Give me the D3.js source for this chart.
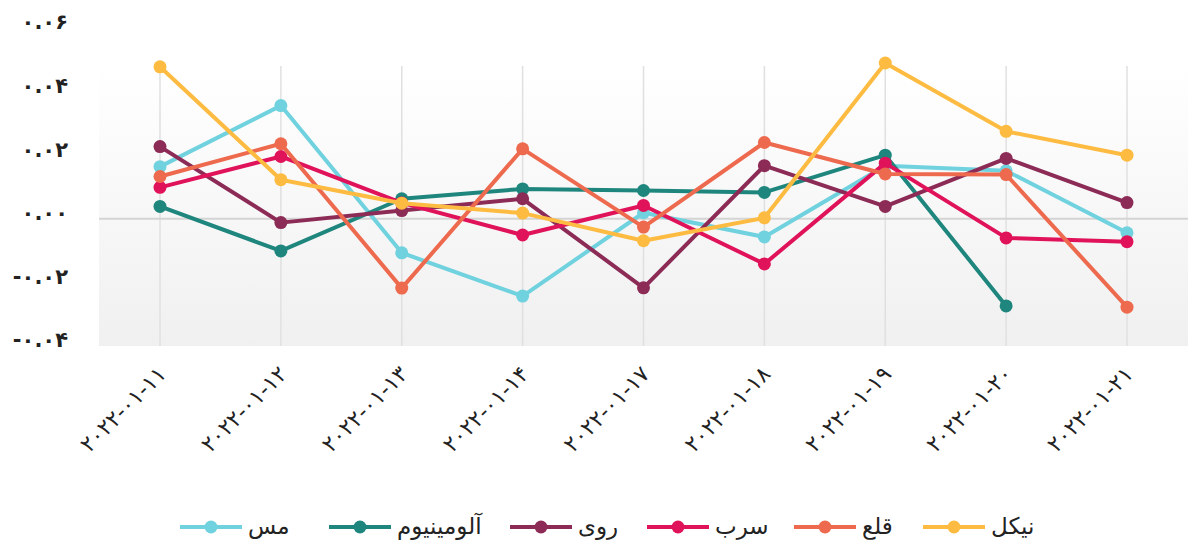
<!DOCTYPE html>
<html>
<head>
<meta charset="utf-8">
<script src="https://cdn.jsdelivr.net/npm/d3@7"></script>
<style>
  body { margin: 0; background: #fff; }
  svg text { font-family: "DejaVu Sans", sans-serif; fill: #222; }
</style>
</head>
<body>
<div id="chart"></div>
<script>
// categories (dates, shown with Persian digits)
const dates = ['۲۰۲۲-۰۱-۱۱', '۲۰۲۲-۰۱-۱۲', '۲۰۲۲-۰۱-۱۳', '۲۰۲۲-۰۱-۱۴', '۲۰۲۲-۰۱-۱۷',
  '۲۰۲۲-۰۱-۱۸', '۲۰۲۲-۰۱-۱۹', '۲۰۲۲-۰۱-۲۰', '۲۰۲۲-۰۱-۲۱'];

const seriesNames = ['مس', 'آلومینیوم', 'روی', 'سرب', 'قلع', 'نیکل'];
const seriesColors = ['#70d2de', '#1f867e', '#8d2b57', '#e0135a', '#ee6a4e', '#fdbb41'];

const copper = [0.0164, 0.0356, -0.0107, -0.0243, 0.0019, -0.0057, 0.0167, 0.0151, -0.0044];
const aluminium = [0.0039, -0.0101, 0.0063, 0.0094, 0.0089, 0.0083, 0.0200, -0.0274, null];
const zinc = [0.0227, -0.0012, 0.0026, 0.0063, -0.0217, 0.0167, 0.0039, 0.0190, 0.0051];
const lead = [0.0099, 0.0196, 0.0050, -0.0051, 0.0042, -0.0142, 0.0175, -0.0060, -0.0072];
const tin = [0.0133, 0.0236, -0.0218, 0.0220, -0.0026, 0.0240, 0.0141, 0.0139, -0.0278];
const nickel = [0.0478, 0.0123, 0.0049, 0.0018, -0.0069, 0.0003, 0.0490, 0.0275, 0.0200];

const yTicks = [-0.04, -0.02, 0, 0.02, 0.04, 0.06];
const yTickLabels = ['-۰.۰۴', '-۰.۰۲', '۰.۰۰', '۰.۰۲', '۰.۰۴', '۰.۰۶'];

const allSeries = [copper, aluminium, zinc, lead, tin, nickel];

const width = 1192;
const height = 540;
const plot = { left: 99, right: 1188, top: 66, bottom: 346 };

const svg = d3.select('#chart')
  .append('svg')
  .attr('width', width)
  .attr('height', height);

const x = d3.scalePoint()
  .domain(dates)
  .range([160, 1127]);

const y = d3.scaleLinear()
  .domain([-0.04, 0.06])
  .range([plot.bottom, 28]);

// plot background gradient
const grad = svg.append('defs').append('linearGradient')
  .attr('id', 'bg')
  .attr('x1', 0).attr('y1', 0).attr('x2', 0).attr('y2', 1);
grad.append('stop').attr('offset', '0%').attr('stop-color', '#ffffff');
grad.append('stop').attr('offset', '100%').attr('stop-color', '#f0f0f0');

svg.append('rect')
  .attr('x', plot.left)
  .attr('y', plot.top)
  .attr('width', plot.right - plot.left)
  .attr('height', plot.bottom - plot.top)
  .attr('fill', 'url(#bg)');

// vertical grid lines
svg.selectAll('.vgrid')
  .data(dates)
  .enter()
  .append('line')
  .attr('class', 'vgrid')
  .attr('x1', d => x(d))
  .attr('x2', d => x(d))
  .attr('y1', plot.top)
  .attr('y2', plot.bottom)
  .attr('stroke', '#e0e0e0')
  .attr('stroke-width', 1.5);

// zero line
svg.append('line')
  .attr('x1', plot.left)
  .attr('x2', plot.right)
  .attr('y1', y(0))
  .attr('y2', y(0))
  .attr('stroke', '#d4d4d4')
  .attr('stroke-width', 2);

// y axis labels
svg.selectAll('.ylab')
  .data(yTicks)
  .enter()
  .append('text')
  .attr('class', 'ylab')
  .attr('x', 68)
  .attr('y', d => y(d) - 6)
  .attr('dy', '0.35em')
  .attr('text-anchor', 'end')
  .style('font-size', '21px')
  .style('font-weight', 'bold')
  .text((d, i) => yTickLabels[i]);

// x axis labels
svg.selectAll('.xlab')
  .data(dates)
  .enter()
  .append('text')
  .attr('class', 'xlab')
  .attr('transform', d => `translate(${x(d) + 2}, 370) rotate(-45)`)
  .attr('text-anchor', 'end')
  .attr('dy', '0.35em')
  .style('font-size', '22px')
  .text(d => d);

const line = d3.line()
  .defined(d => d != null)
  .x((d, i) => x(dates[i]))
  .y(d => y(d));

allSeries.forEach((values, s) => {
  const g = svg.append('g');
  g.append('path')
    .datum(values)
    .attr('d', line)
    .attr('fill', 'none')
    .attr('stroke', seriesColors[s])
    .attr('stroke-width', 4)
    .attr('stroke-linejoin', 'round');
  g.selectAll('circle')
    .data(values.map((v, i) => ({ v, i })).filter(d => d.v != null))
    .enter()
    .append('circle')
    .attr('cx', d => x(dates[d.i]))
    .attr('cy', d => y(d.v))
    .attr('r', 6.5)
    .attr('fill', seriesColors[s]);
});

// legend
const legendX = [180, 329, 510, 647, 794, 923];
const legend = svg.append('g');
seriesNames.forEach((name, s) => {
  const item = legend.append('g').attr('transform', `translate(${legendX[s]}, 527)`);
  item.append('line')
    .attr('x1', 0).attr('x2', 62)
    .attr('stroke', seriesColors[s])
    .attr('stroke-width', 4);
  item.append('circle')
    .attr('cx', 31)
    .attr('r', 6.5)
    .attr('fill', seriesColors[s]);
  item.append('text')
    .attr('x', 68)
    .attr('dy', '0.3em')
    .attr('text-anchor', 'start')
    .style('font-size', '23px')
    .text(name);
});
</script>
</body>
</html>
